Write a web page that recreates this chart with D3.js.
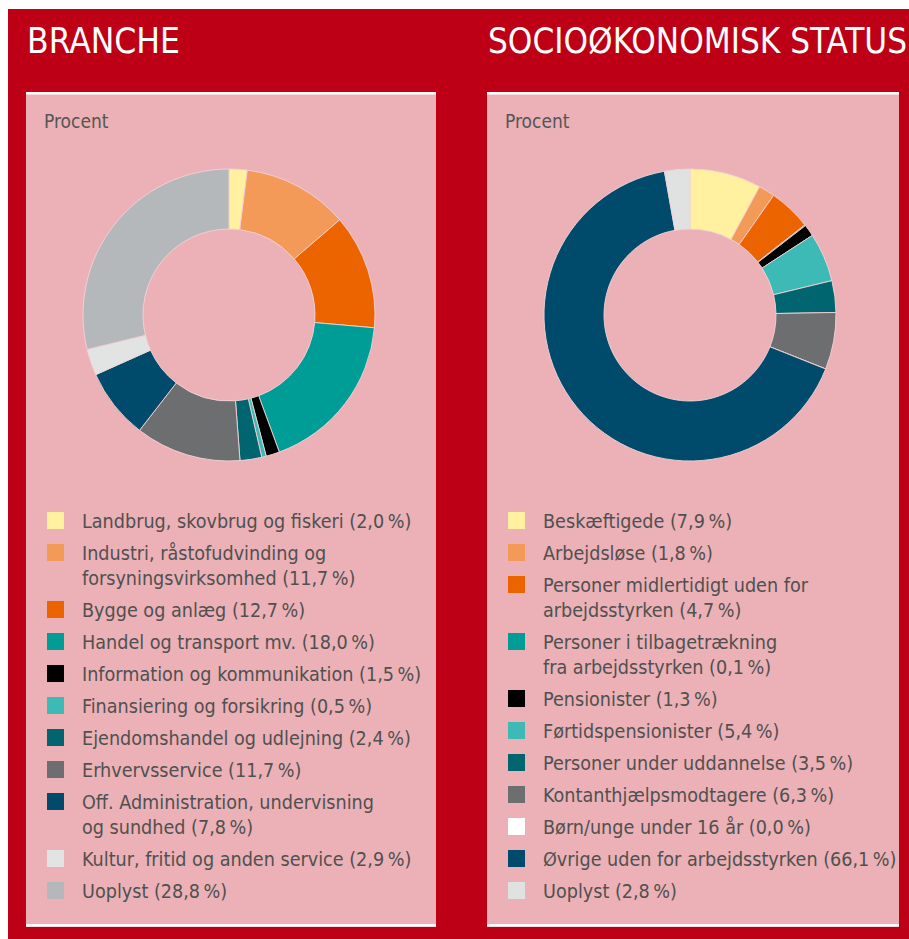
<!DOCTYPE html>
<html lang="da">
<head>
  <meta charset="UTF-8" />
  <title>Branche og socioøkonomisk status</title>
  <script src="https://d3js.org/d3.v7.min.js"></script>
  <style>
    html, body { margin: 0; padding: 0; background: #fff; }
    svg { display: block; }
    text { font-family: "DejaVu Sans Condensed", "DejaVu Sans", sans-serif; }
  </style>
</head>
<body>
  <svg width="909" height="939"></svg>

  <script>
    // Branche
    const brancheNames = [
      "Landbrug, skovbrug og fiskeri",
      "Industri, råstofudvinding og\nforsyningsvirksomhed",
      "Bygge og anlæg",
      "Handel og transport mv.",
      "Information og kommunikation",
      "Finansiering og forsikring",
      "Ejendomshandel og udlejning",
      "Erhvervsservice",
      "Off. Administration, undervisning\nog sundhed",
      "Kultur, fritid og anden service",
      "Uoplyst"
    ];
    const brancheValues = [2.0, 11.7, 12.7, 18.0, 1.5, 0.5, 2.4, 11.7, 7.8, 2.9, 28.8];

    // Socioøkonomisk status
    const statusNames = [
      "Beskæftigede",
      "Arbejdsløse",
      "Personer midlertidigt uden for\narbejdsstyrken",
      "Personer i tilbagetrækning\nfra arbejdsstyrken",
      "Pensionister",
      "Førtidspensionister",
      "Personer under uddannelse",
      "Kontanthjælpsmodtagere",
      "Børn/unge under 16 år",
      "Øvrige uden for arbejdsstyrken",
      "Uoplyst"
    ];
    const statusValues = [7.9, 1.8, 4.7, 0.1, 1.3, 5.4, 3.5, 6.3, 0.0, 66.1, 2.8];

    // colours
    const brancheColors = ["#fff1a0", "#f39a58", "#ec6400", "#009d97", "#000000", "#3db9b6",
                           "#00656e", "#6d6e70", "#004a6b", "#e2e3e3", "#b5b8bb"];
    const statusColors  = ["#fff1a0", "#f39a58", "#ec6400", "#009d97", "#000000", "#3db9b6",
                           "#00656e", "#6d6e70", "#ffffff", "#004a6b", "#e0e1e1"];

    const svg = d3.select("svg");
    const fmt = v => d3.format(".1f")(v).replace(".", ",");

    // red background
    svg.append("rect")
      .attr("x", 8).attr("y", 9)
      .attr("width", 901).attr("height", 930)
      .attr("fill", "#be0016");

    const pie = d3.pie().sort(null).value(d => d);
    const arc = d3.arc().innerRadius(86).outerRadius(146);

    function drawPanel(px, pw, title, titleWidth, names, values, colors) {
      const g = svg.append("g").attr("transform", `translate(${px},0)`);

      g.append("text")
        .attr("x", 1).attr("y", 53)
        .attr("fill", "#fff")
        .attr("font-size", 35)
        .attr("textLength", titleWidth)
        .attr("lengthAdjust", "spacingAndGlyphs")
        .text(title);

      g.append("rect")
        .attr("x", 0).attr("y", 92)
        .attr("width", pw).attr("height", 835)
        .attr("fill", "#ebb1b6");
      g.append("rect")
        .attr("x", 0).attr("y", 92)
        .attr("width", pw).attr("height", 2.5)
        .attr("fill", "#fff");
      g.append("rect")
        .attr("x", 0).attr("y", 924)
        .attr("width", pw).attr("height", 2.5)
        .attr("fill", "#fff");

      g.append("text")
        .attr("x", 18).attr("y", 128)
        .attr("fill", "#555")
        .attr("font-size", 19)
        .text("Procent");

      const donut = g.append("g").attr("transform", "translate(203,315)");
      donut.selectAll("path")
        .data(pie(values))
        .join("path")
        .attr("d", arc)
        .attr("fill", (d, i) => colors[i])
        .attr("stroke", "#f3d3d6")
        .attr("stroke-width", 0.9);

      // legend
      let y = 528;
      names.forEach((name, i) => {
        const lines = (name + " (" + fmt(values[i]) + "\u2009%)").split("\n");
        g.append("rect")
          .attr("x", 21).attr("y", y - 16)
          .attr("width", 17).attr("height", 17)
          .attr("fill", colors[i]);
        const t = g.append("text")
          .attr("x", 56).attr("y", y)
          .attr("fill", "#505050")
          .attr("font-size", 19.6);
        lines.forEach((ln, j) => {
          t.append("tspan")
            .attr("x", 56)
            .attr("dy", j === 0 ? 0 : 25)
            .text(ln);
        });
        y += 32 + (lines.length - 1) * 25;
      });
    }

    drawPanel(26, 410, "BRANCHE", 153, brancheNames, brancheValues, brancheColors);
    drawPanel(487, 412, "SOCIOØKONOMISK STATUS", 419, statusNames, statusValues, statusColors);
  </script>
</body>
</html>
